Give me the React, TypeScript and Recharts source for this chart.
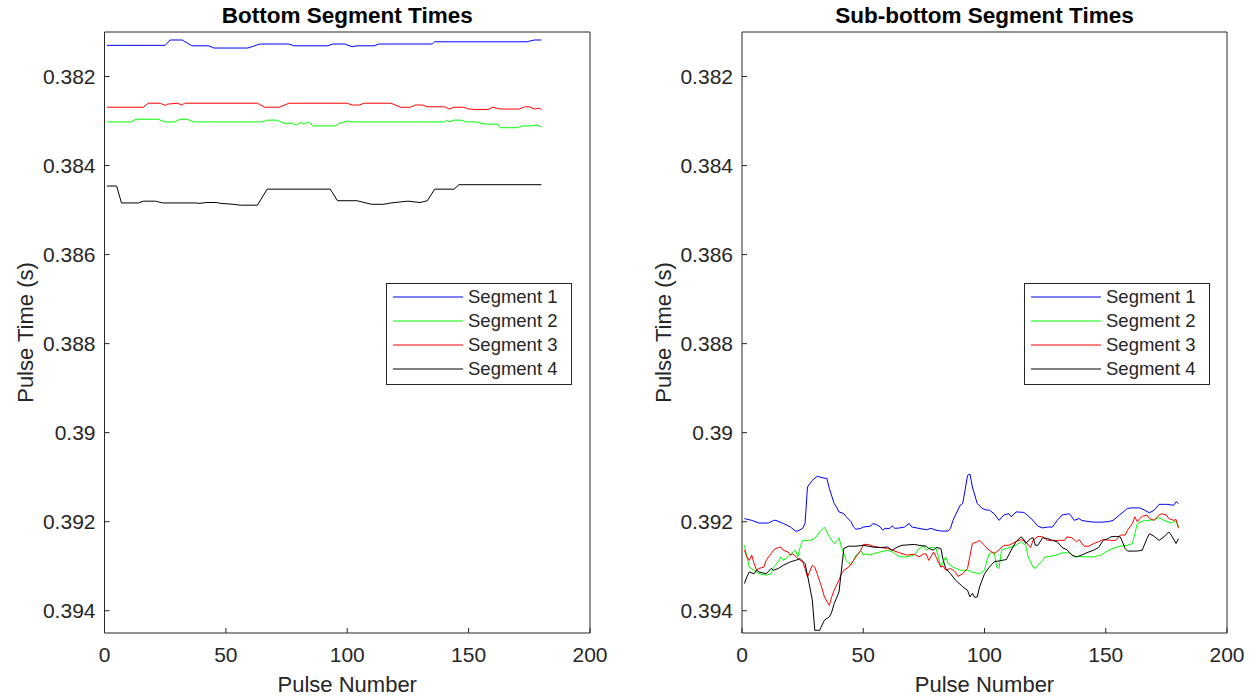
import React from 'react';
import { LineChart, Line, XAxis, YAxis, Legend } from 'recharts';

type Pt = [number, number];

const pulseTicks = [0, 50, 100, 150, 200];
const timeTicks = [0.382, 0.384, 0.386, 0.388, 0.39, 0.392, 0.394];
const segmentNames = ['Segment 1', 'Segment 2', 'Segment 3', 'Segment 4'];
const segmentColors = ['#0000ff', '#00ff00', '#ff0000', '#000000'];

// bottom segment times, [pulse, seconds]
const bottomSeg1: Pt[] = [
  [1, 0.3813], [25, 0.3813], [27, 0.38118], [32, 0.38118], [36, 0.38131], [43, 0.38131], [45, 0.38136],
  [59, 0.38136], [64, 0.38127], [76, 0.38127], [78, 0.38131], [92, 0.38131], [94, 0.38127], [99, 0.38127],
  [102, 0.38133], [104, 0.38131], [111, 0.38131], [113, 0.38127], [135, 0.38127], [136, 0.38122],
  [174, 0.38122], [177, 0.38118], [180, 0.38118],
];
const bottomSeg2: Pt[] = [
  [1, 0.38302], [11, 0.38302], [13, 0.38296], [22, 0.38296], [25, 0.38302], [29, 0.38302], [31, 0.38296],
  [34, 0.38296], [37, 0.38302], [65, 0.38302], [67, 0.38298], [71, 0.38298], [74, 0.38305], [77, 0.38305],
  [79, 0.38309], [81, 0.38303], [82, 0.38307], [84, 0.38302], [86, 0.38311], [95, 0.38311], [97, 0.38305],
  [100, 0.383], [102, 0.38302], [140, 0.38302], [141, 0.38298], [142, 0.38302], [144, 0.38298],
  [147, 0.38298], [149, 0.38302], [153, 0.38302], [157, 0.38307], [162, 0.38307], [163, 0.38315],
  [170, 0.38315], [172, 0.38311], [176, 0.38311], [178, 0.38309], [180, 0.38313],
];
const bottomSeg3: Pt[] = [
  [1, 0.38269], [16, 0.38269], [18, 0.3826], [23, 0.3826], [25, 0.38265], [26, 0.38262], [30, 0.3826],
  [32, 0.38264], [33, 0.3826], [63, 0.3826], [66, 0.38269], [72, 0.38269], [76, 0.3826], [100, 0.3826],
  [102, 0.38264], [105, 0.38264], [107, 0.3826], [118, 0.3826], [122, 0.38269], [126, 0.38269],
  [128, 0.38264], [131, 0.38264], [133, 0.38268], [140, 0.38268], [142, 0.38273], [144, 0.38269],
  [148, 0.38269], [150, 0.38273], [153, 0.38274], [158, 0.38274], [160, 0.38269], [163, 0.38273],
  [171, 0.38273], [173, 0.38268], [175, 0.38268], [177, 0.38273], [179, 0.38271], [180, 0.38274],
];
const bottomSeg4: Pt[] = [
  [1, 0.38446], [5, 0.38446], [7, 0.38484], [14, 0.38484], [16, 0.3848], [21, 0.3848], [24, 0.38484],
  [38, 0.38484], [39, 0.38485], [42, 0.38483], [46, 0.38483], [48, 0.38485], [53, 0.38487], [56, 0.38489],
  [63, 0.38489], [67, 0.38453], [93, 0.38453], [96, 0.38479], [104, 0.38479], [110, 0.38487],
  [115, 0.38487], [118, 0.38484], [123, 0.38481], [125, 0.3848], [130, 0.38483], [133, 0.38479],
  [136, 0.38453], [144, 0.38453], [146, 0.38443], [180, 0.38443],
];

// sub-bottom segment times, [pulse, seconds]
const subSeg1: Pt[] = [
  [1, 0.39193], [4, 0.39197], [7, 0.39203], [11, 0.39203], [13, 0.39197], [14, 0.39197], [17, 0.39204],
  [20, 0.39212], [22, 0.39221], [23, 0.39221], [25, 0.39215], [26, 0.39204], [27, 0.39122], [29, 0.39107],
  [31, 0.39098], [33, 0.39101], [35, 0.39103], [36, 0.39125], [38, 0.39159], [39, 0.39167], [40, 0.39178],
  [42, 0.39182], [43, 0.39189], [45, 0.392], [46, 0.39212], [47, 0.39217], [49, 0.39215], [50, 0.39212],
  [53, 0.3921], [54, 0.39204], [56, 0.39208], [57, 0.39212], [58, 0.39219], [59, 0.39215], [61, 0.39215],
  [62, 0.39209], [63, 0.39215], [65, 0.39214], [67, 0.39212], [68, 0.39208], [69, 0.39204], [70, 0.39212],
  [73, 0.39215], [76, 0.39218], [78, 0.39215], [80, 0.39219], [82, 0.39221], [85, 0.39221], [86, 0.39215],
  [87, 0.39197], [89, 0.39174], [90, 0.39163], [91, 0.39159], [92, 0.39129], [93, 0.39096], [94, 0.39093],
  [95, 0.39122], [97, 0.39159], [99, 0.3917], [101, 0.39174], [102, 0.39174], [104, 0.39182], [106, 0.39197],
  [108, 0.39185], [110, 0.39182], [111, 0.39189], [113, 0.39178], [116, 0.39179], [117, 0.39182],
  [120, 0.39197], [122, 0.3921], [124, 0.39214], [126, 0.39212], [128, 0.39212], [130, 0.39197],
  [132, 0.39185], [135, 0.39182], [136, 0.39189], [137, 0.39197], [139, 0.39193], [140, 0.39197],
  [142, 0.39199], [145, 0.39201], [148, 0.39201], [151, 0.392], [153, 0.39197], [155, 0.39188],
  [159, 0.3917], [161, 0.39169], [164, 0.39169], [166, 0.39174], [168, 0.3918], [170, 0.39174],
  [172, 0.39161], [175, 0.39161], [178, 0.39163], [179, 0.39155], [180, 0.39159],
];
const subSeg2: Pt[] = [
  [1, 0.39253], [2, 0.39279], [3, 0.39302], [5, 0.39309], [7, 0.39317], [10, 0.3932], [12, 0.39317],
  [13, 0.39302], [15, 0.3929], [16, 0.39279], [17, 0.39287], [19, 0.39279], [21, 0.39268], [22, 0.39264],
  [23, 0.39279], [24, 0.39257], [25, 0.39242], [28, 0.39242], [30, 0.39238], [32, 0.39223], [34, 0.39212],
  [35, 0.39223], [36, 0.39234], [38, 0.39249], [39, 0.39245], [40, 0.39236], [41, 0.39257], [42, 0.39272],
  [43, 0.39287], [45, 0.39298], [46, 0.39287], [47, 0.39275], [48, 0.39272], [49, 0.39264], [50, 0.39275],
  [51, 0.39272], [53, 0.39275], [54, 0.39272], [57, 0.39268], [60, 0.39264], [62, 0.39268], [65, 0.39279],
  [68, 0.39279], [71, 0.39275], [72, 0.39268], [73, 0.3926], [75, 0.39255], [76, 0.39264], [78, 0.39257],
  [80, 0.3926], [81, 0.39279], [82, 0.39302], [84, 0.39279], [85, 0.39294], [87, 0.39302], [90, 0.39309],
  [93, 0.39309], [95, 0.39313], [98, 0.39317], [100, 0.39309], [101, 0.39287], [102, 0.39272],
  [104, 0.39268], [105, 0.39302], [106, 0.39305], [107, 0.39264], [109, 0.3926], [111, 0.39257],
  [113, 0.39253], [115, 0.39245], [117, 0.39253], [118, 0.39279], [120, 0.39302], [121, 0.39305],
  [122, 0.39298], [124, 0.39287], [125, 0.39279], [127, 0.39278], [130, 0.39274], [132, 0.3927],
  [135, 0.3927], [136, 0.39274], [137, 0.39279], [139, 0.39278], [142, 0.39279], [145, 0.39279],
  [148, 0.39275], [150, 0.39268], [153, 0.3926], [156, 0.39255], [159, 0.39253], [161, 0.39249],
  [162, 0.39227], [163, 0.39204], [166, 0.39197], [168, 0.39197], [170, 0.39195], [172, 0.39191],
  [174, 0.39197], [177, 0.39203], [179, 0.39198], [180, 0.39212],
];
const subSeg3: Pt[] = [
  [1, 0.39264], [2, 0.39279], [3, 0.39287], [4, 0.39275], [5, 0.39294], [6, 0.39309], [7, 0.39305],
  [9, 0.39302], [10, 0.39287], [11, 0.39279], [12, 0.39272], [13, 0.39264], [14, 0.3926], [16, 0.39257],
  [17, 0.39264], [19, 0.39268], [20, 0.39275], [21, 0.39272], [23, 0.39283], [25, 0.3929], [26, 0.39305],
  [27, 0.39324], [29, 0.39298], [30, 0.39302], [31, 0.39317], [33, 0.3935], [34, 0.39369], [36, 0.39388],
  [37, 0.39369], [38, 0.39354], [40, 0.39331], [41, 0.39317], [42, 0.39309], [44, 0.39302], [47, 0.39279],
  [49, 0.39264], [50, 0.39251], [52, 0.39251], [54, 0.39255], [57, 0.39258], [60, 0.3926], [62, 0.39264],
  [65, 0.3927], [68, 0.39275], [71, 0.39273], [73, 0.39279], [75, 0.39272], [76, 0.39273], [77, 0.39287],
  [79, 0.39268], [80, 0.39279], [82, 0.39302], [83, 0.393], [84, 0.39309], [86, 0.39305], [88, 0.39313],
  [89, 0.39323], [91, 0.39317], [93, 0.39305], [95, 0.39249], [97, 0.39245], [98, 0.39242], [100, 0.39253],
  [101, 0.3926], [102, 0.39264], [104, 0.39272], [106, 0.39263], [108, 0.39253], [110, 0.39253],
  [113, 0.39245], [115, 0.3924], [117, 0.39245], [119, 0.39258], [120, 0.39242], [122, 0.39233],
  [124, 0.39234], [126, 0.39242], [130, 0.39242], [133, 0.39242], [134, 0.39234], [136, 0.39236],
  [138, 0.39245], [139, 0.3924], [141, 0.39255], [143, 0.39255], [145, 0.39249], [147, 0.39245],
  [149, 0.3924], [152, 0.39242], [154, 0.39242], [156, 0.3923], [158, 0.3923], [159, 0.39219],
  [161, 0.39204], [162, 0.39189], [163, 0.392], [164, 0.39193], [165, 0.39188], [167, 0.39185],
  [168, 0.39193], [170, 0.39197], [172, 0.39185], [173, 0.39182], [175, 0.39185], [176, 0.39193],
  [178, 0.39197], [179, 0.39195], [180, 0.39215],
];
const subSeg4: Pt[] = [
  [1, 0.39339], [2, 0.39324], [3, 0.39313], [5, 0.39317], [6, 0.39309], [7, 0.39313], [10, 0.39317],
  [12, 0.39305], [13, 0.39309], [15, 0.39305], [17, 0.39298], [20, 0.3929], [22, 0.39287], [24, 0.39283],
  [26, 0.39294], [27, 0.3932], [29, 0.39376], [30, 0.39444], [32, 0.39444], [34, 0.39421], [36, 0.39414],
  [37, 0.39403], [38, 0.39384], [40, 0.39358], [41, 0.39309], [42, 0.3926], [44, 0.39255], [47, 0.39255],
  [50, 0.39253], [54, 0.39257], [57, 0.39258], [60, 0.39257], [62, 0.39264], [64, 0.39257], [66, 0.39253],
  [71, 0.39251], [73, 0.39253], [76, 0.39255], [77, 0.3926], [79, 0.39264], [80, 0.39258], [82, 0.3926],
  [83, 0.39287], [84, 0.39305], [86, 0.39317], [88, 0.39331], [91, 0.39346], [93, 0.39354], [94, 0.39369],
  [95, 0.39361], [96, 0.3937], [97, 0.39369], [98, 0.39346], [100, 0.39317], [102, 0.39302], [104, 0.3929],
  [106, 0.39288], [109, 0.39285], [111, 0.39264], [113, 0.39245], [115, 0.39234], [116, 0.39238],
  [117, 0.39249], [119, 0.39238], [120, 0.39236], [121, 0.39253], [122, 0.39253], [124, 0.39236],
  [126, 0.39238], [128, 0.39242], [130, 0.39245], [132, 0.39258], [134, 0.39263], [136, 0.39275],
  [138, 0.39279], [140, 0.39275], [142, 0.3927], [145, 0.39264], [147, 0.39258], [149, 0.39242],
  [151, 0.39238], [152, 0.39234], [154, 0.39233], [156, 0.39234], [158, 0.3926], [159, 0.39266],
  [163, 0.39266], [165, 0.39264], [167, 0.39238], [168, 0.39227], [170, 0.39233], [172, 0.39242],
  [174, 0.39234], [176, 0.39223], [177, 0.3923], [179, 0.39249], [180, 0.39238],
];

const axisColor = '#262626';
const fontFamily = "'Liberation Sans', Arial, Helvetica, sans-serif";

const toPoints = (pts: Pt[]) => pts.map(([pulse, time]) => ({ pulse, time }));
const fmtTime = (v: number) => String(Number(v.toFixed(3)));

const titleLabel = (text: string) => (props: any) => {
  const vb = props.viewBox;
  return (
    <text x={vb.x + vb.width / 2} y={vb.y + vb.height - 16.5} textAnchor="middle" dominantBaseline="central"
      fontSize={22.5} fontWeight="bold" fill="#000">{text}</text>
  );
};

const xLabel = (props: any) => {
  const vb = props.viewBox;
  return (
    <text x={vb.x + vb.width / 2} y={vb.y + 51} textAnchor="middle" dominantBaseline="central"
      fontSize={22} fill={axisColor}>Pulse Number</text>
  );
};

const yLabel = (props: any) => {
  const vb = props.viewBox;
  const cx = vb.x + vb.width - 79;
  const cy = vb.y + vb.height / 2;
  return (
    <text x={cx} y={cy} transform={`rotate(-90 ${cx} ${cy})`} textAnchor="middle" dominantBaseline="central"
      fontSize={22} fill={axisColor}>Pulse Time (s)</text>
  );
};

const legendBox = (props: any) => (
  <div style={{ width: 186, height: 102, boxSizing: 'border-box', border: `1px solid ${axisColor}`, background: '#fff', paddingTop: 1 }}>
    {(props.payload || []).map((p: any) => (
      <div key={p.value} style={{ display: 'flex', alignItems: 'center', height: 24 }}>
        <svg width={76} height={24} style={{ display: 'block' }}>
          <line x1={6} x2={76} y1={12} y2={12} stroke={p.color} strokeWidth={1} />
        </svg>
        <span style={{ fontSize: 18.5, color: axisColor, marginLeft: 5, lineHeight: '24px' }}>{p.value}</span>
      </div>
    ))}
  </div>
);

type PanelProps = { title: string; series: Pt[][]; width: number; axisWidth: number; marginRight: number; legendLeft: number };

// top and right axes only carry the box edge and the inner tick marks
const SegmentPanel = ({ title, series, width, axisWidth, marginRight, legendLeft }: PanelProps) => (
  <LineChart width={width} height={696} margin={{ top: 31, right: marginRight - 1, bottom: 0, left: 0 }}>
    <XAxis dataKey="pulse" type="number" domain={[0, 200]} ticks={pulseTicks} allowDataOverflow height={63}
      tickSize={-5} tickMargin={19} stroke={axisColor} tick={{ fill: axisColor, fontSize: 21 }} label={xLabel} />
    <XAxis xAxisId="top" orientation="top" dataKey="pulse" type="number" domain={[0, 200]} ticks={pulseTicks}
      allowDataOverflow height={1} tickSize={-5} tick={false} stroke={axisColor} label={titleLabel(title)} />
    <YAxis dataKey="time" type="number" domain={[0.381, 0.3945]} reversed ticks={timeTicks} allowDataOverflow
      width={axisWidth} tickSize={-5} tickMargin={14} tickFormatter={fmtTime} stroke={axisColor}
      tick={{ fill: axisColor, fontSize: 21 }} label={yLabel} />
    <YAxis yAxisId="right" orientation="right" dataKey="time" type="number" domain={[0.381, 0.3945]} reversed
      ticks={timeTicks} allowDataOverflow width={1} tickSize={-5} tick={false} stroke={axisColor} />
    <Legend layout="vertical" align="center" verticalAlign="middle" content={legendBox}
      wrapperStyle={{ left: legendLeft, top: 283, width: 186, height: 102 }} />
    {series.map((pts, i) => (
      <Line key={segmentNames[i]} data={toPoints(pts)} dataKey="time" name={segmentNames[i]} type="linear"
        stroke={segmentColors[i]} strokeWidth={1} dot={false} activeDot={false} isAnimationActive={false} />
    ))}
  </LineChart>
);

export default function App() {
  return (
    <div style={{ position: 'absolute', left: 0, top: 0, width: 1255, height: 696, background: '#fff', fontFamily }}>
      <div style={{ position: 'absolute', left: 0, top: 0 }}>
        <SegmentPanel title="Bottom Segment Times" series={[bottomSeg1, bottomSeg2, bottomSeg3, bottomSeg4]}
          width={620} axisWidth={104.5} marginRight={30} legendLeft={386} />
      </div>
      <div style={{ position: 'absolute', left: 620, top: 0 }}>
        <SegmentPanel title="Sub-bottom Segment Times" series={[subSeg1, subSeg2, subSeg3, subSeg4]}
          width={635} axisWidth={122} marginRight={28} legendLeft={404} />
      </div>
    </div>
  );
}
